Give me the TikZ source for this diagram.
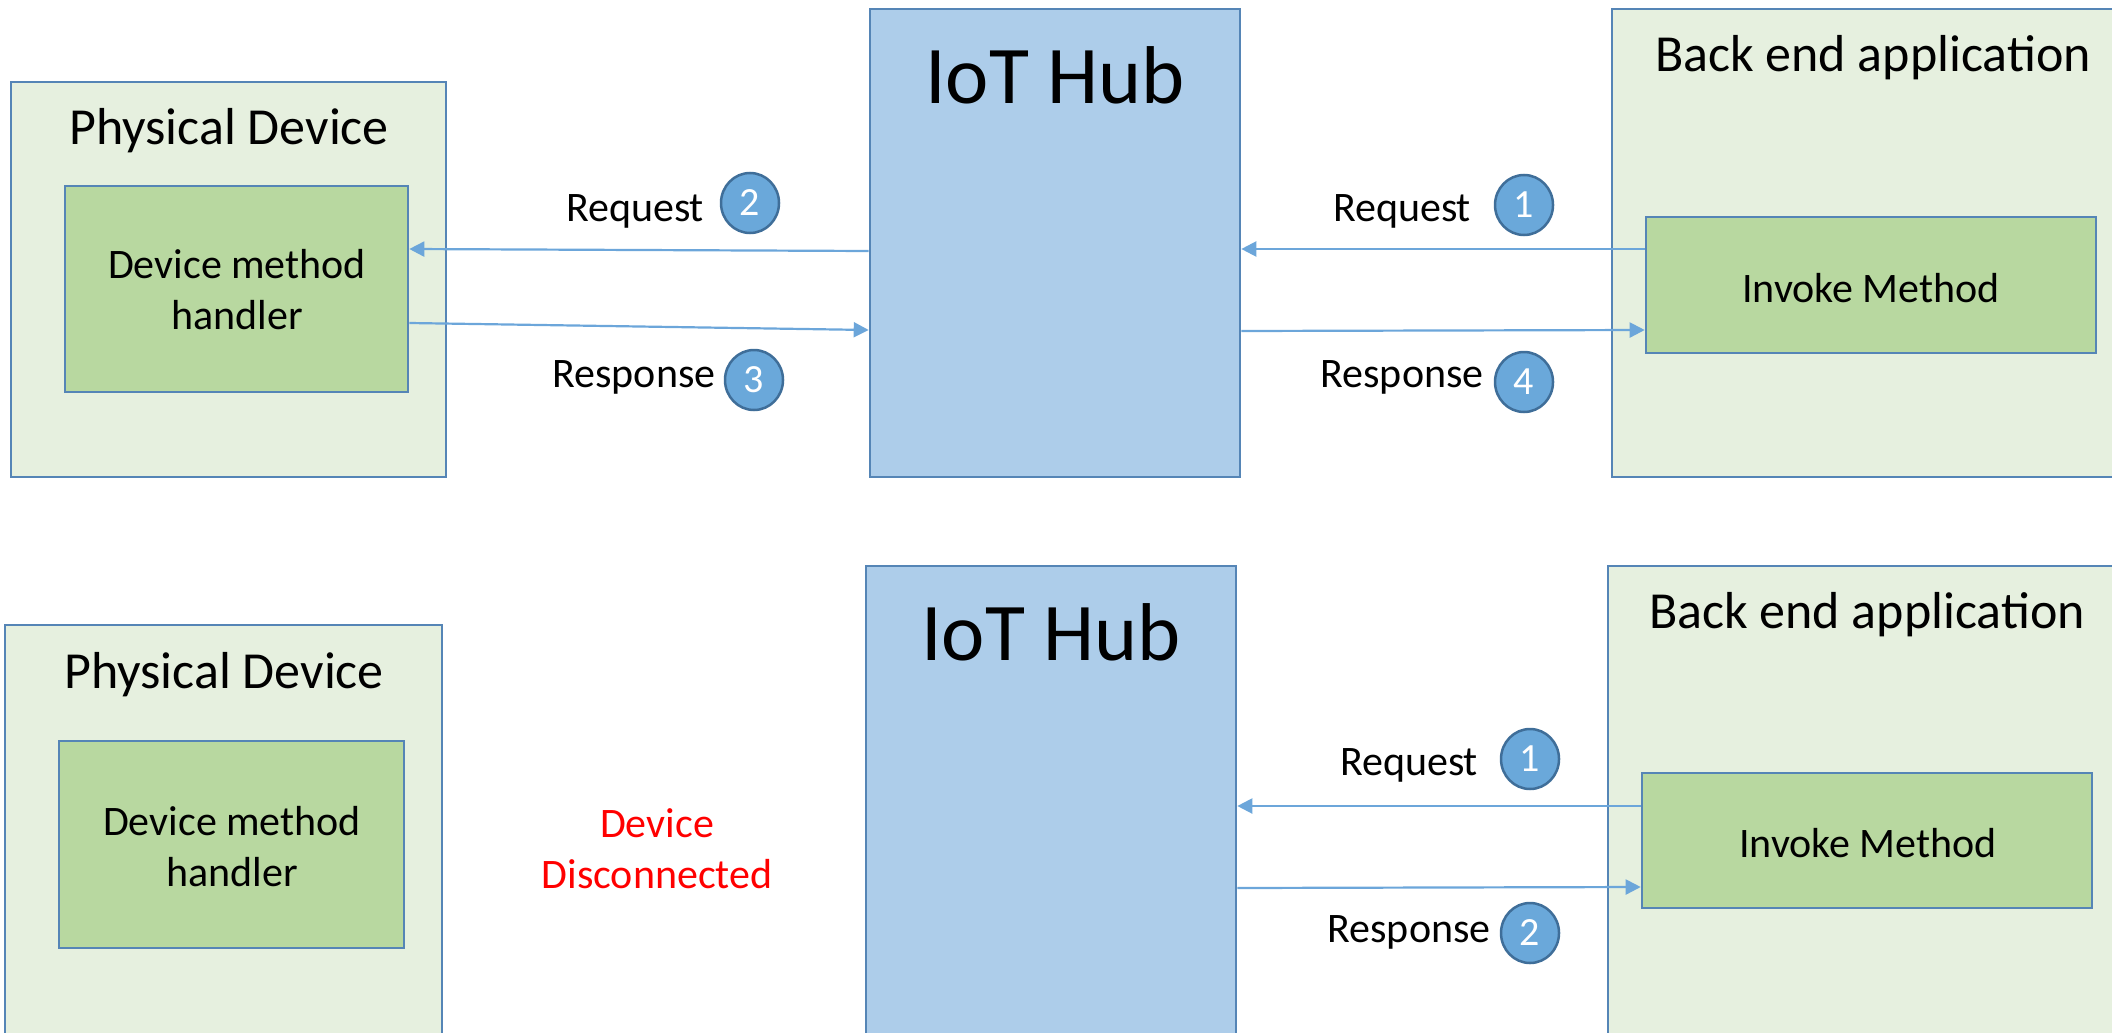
\documentclass[tikz,border=0pt]{standalone}
\usepackage{fontspec}
\setmainfont{Carlito}
\usetikzlibrary{arrows.meta,shapes.geometric,calc}
\definecolor{outergreen}{HTML}{E6F0DF}
\definecolor{innergreen}{HTML}{B8D8A0}
\definecolor{hubblue}{HTML}{ADCDEA}
\definecolor{edgeblue}{HTML}{5585B6}
\definecolor{arrowblue}{HTML}{6CA6DA}
\definecolor{badgefill}{HTML}{6AA8DA}
\definecolor{badgeedge}{HTML}{3F6E99}
\definecolor{alertred}{HTML}{FF0000}
\begin{document}
\begin{tikzpicture}[x=0.5pt,y=-0.5pt,
  panel/.style={draw=edgeblue,line width=1.3pt,rectangle,inner sep=0pt},
  outerbox/.style={panel,fill=outergreen},
  innerbox/.style={panel,fill=innergreen},
  hubbox/.style={panel,fill=hubblue},
  titletext/.style={anchor=base,inner sep=0pt,font=\fontsize{26}{31}\selectfont},
  hubtext/.style={anchor=base,inner sep=0pt,font=\fontsize{41}{49}\selectfont},
  msgtext/.style={anchor=base,inner sep=0pt,font=\fontsize{21}{25.5}\selectfont},
  boxtext/.style={align=center,inner sep=0pt,font=\fontsize{21}{25.5}\selectfont},
  badge/.style={ellipse,draw=badgeedge,fill=badgefill,line width=1.25pt,minimum width=29pt,minimum height=30pt,inner sep=0pt,text=white,font=\fontsize{20}{22}\selectfont},
  flow/.style={draw=arrowblue,line width=1.1pt,-{Triangle[length=7.5pt,width=7.5pt]}}
]
\useasboundingbox (0,0) rectangle (2112,1032);
\clip (0,0) rectangle (2112,1032);

% ---------- top row ----------
\node[outerbox,minimum width=217.5pt,minimum height=197.5pt] (pd1) at (228.5,279.5) {};
\node[innerbox,minimum width=171.5pt,minimum height=103pt] (dmh1) at (236.5,289) {};
\node[hubbox,minimum width=185pt,minimum height=234pt] (hub1) at (1055,243) {};
\node[outerbox,minimum width=264pt,minimum height=234pt] (be1) at (1876,243) {};
\node[innerbox,minimum width=225pt,minimum height=68pt] (im1) at (1871,285) {};

\node[titletext] (pd1t) at (229,145) {Physical Device};
\node[hubtext] (hub1t) at (1055,104) {IoT Hub};
\node[titletext] (be1t) at (1873,72) {Back end application};
\node[boxtext] (dmh1t) at (237,290) {Device method\\handler};
\node[msgtext] (im1t) at (1871,302) {Invoke Method};

\node[msgtext] (req2t) at (635,221) {Request};
\node[badge] (b2) at (750,203) {2};
\node[msgtext] (resp3t) at (634,387) {Response};
\node[badge] (b3) at (754,380) {3};
\node[msgtext] (req1t) at (1402,221) {Request};
\node[badge] (b1) at (1524,205) {1};
\node[msgtext] (resp4t) at (1402,387) {Response};
\node[badge] (b4) at (1524,382) {4};

\draw[flow] (hub1.west |- 0,251) -- (dmh1.east |- 0,249);
\draw[flow] (dmh1.east |- 0,323) -- (hub1.west |- 0,330);
\draw[flow] (im1.west |- 0,249) -- (hub1.east |- 0,249);
\draw[flow] (hub1.east |- 0,331) -- (im1.west |- 0,330);

% ---------- bottom row ----------
\node[outerbox,minimum width=218.5pt,minimum height=217.5pt] (pd2) at (223.5,842.5) {};
\node[innerbox,minimum width=172.5pt,minimum height=103.5pt] (dmh2) at (231.5,844.5) {};
\node[hubbox,minimum width=185pt,minimum height=247pt] (hub2) at (1051,813) {};
\node[outerbox,minimum width=266pt,minimum height=247pt] (be2) at (1874,813) {};
\node[innerbox,minimum width=225pt,minimum height=67.5pt] (im2) at (1867,840.5) {};

\node[titletext] (pd2t) at (224,688) {Physical Device};
\node[hubtext] (hub2t) at (1051,660) {IoT Hub};
\node[titletext] (be2t) at (1867,628) {Back end application};
\node[boxtext] (dmh2t) at (232,847) {Device method\\handler};
\node[msgtext] (im2t) at (1868,857) {Invoke Method};
\node[boxtext,text=alertred] (disc) at (657,849) {Device\\Disconnected};

\node[msgtext] (req1bt) at (1409,775) {Request};
\node[badge] (bb1) at (1530,759) {1};
\node[msgtext] (resp2bt) at (1409,942) {Response};
\node[badge] (bb2) at (1530,933) {2};

\draw[flow] (im2.west |- 0,806) -- (hub2.east |- 0,806);
\draw[flow] (hub2.east |- 0,888) -- (im2.west |- 0,887);
\end{tikzpicture}
\end{document}
